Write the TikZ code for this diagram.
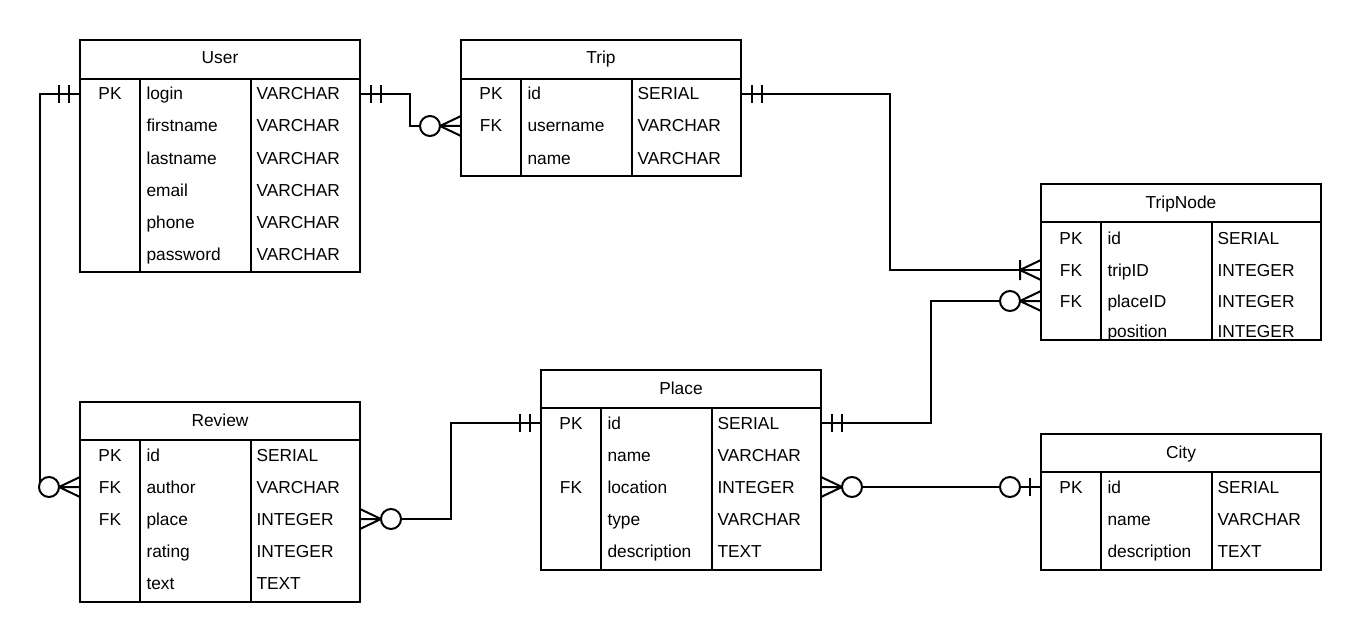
\documentclass[tikz,border=0pt]{standalone}
\usepackage{fontspec}
\setmainfont{Liberation Sans}
\usetikzlibrary{calc}

% one entity table: name, left x, top y, bottom y, header line y, title
\newcommand\ertable[6]{%
  \node[tbl, minimum height={(#4-#3)*0.75pt}] (#1) at (#2,#3) {};
  \draw (#2,#5) -- ++(280,0);
  \draw (#2+60,#5) -- (#2+60,#4);
  \draw (#2+170.5,#5) -- (#2+170.5,#4);
  \node[cell, anchor=base] (#1-title) at (#2+140,#3+24) {#6};}

% one attribute row: table, row id, row centre y, key, field, type
\newcommand\errow[6]{%
  \coordinate (#1-#2) at (#1.west |- 0,#3);
  \node[cell, anchor=base] (#1-#2-k) at ($(#1-#2)+(30,6)$) {#4};
  \node[cell, anchor=base west] (#1-#2-f) at ($(#1-#2)+(65.5,6)$) {#5};
  \node[cell, anchor=base west] (#1-#2-t) at ($(#1-#2)+(175.5,6)$) {#6};}

\tikzset{
  tbl/.style={draw, anchor=north west, inner sep=0pt, outer sep=0pt, minimum width=210pt},
  cell/.style={inner sep=0pt, font=\fontsize{13}{15}\selectfont},
  % crow's foot end markers, drawn with the table edge at the origin
  mand/.pic={\draw (11,-9) -- (11,9) (21,-9) -- (21,9);},
  zmany/.pic={\draw (0,-10) -- (21,0) -- (0,10) (0,0) -- (21,0);
              \draw[fill=white] (31,0) circle[radius=10];},
  omany/.pic={\draw (0,-10) -- (21,0) -- (0,10) (21,-10) -- (21,10);},
  zone/.pic={\draw (11,-9) -- (11,9);
             \draw[fill=white] (31,0) circle[radius=10];},
}

\begin{document}
\begin{tikzpicture}[x=0.75pt, y=-0.75pt, line width=1.5pt]
\useasboundingbox (0,0) rectangle (1361,642);

% entities
\ertable{user}{80}{40}{272}{79}{User}
\errow{user}{1}{94}{PK}{login}{VARCHAR}
\errow{user}{2}{126}{}{firstname}{VARCHAR}
\errow{user}{3}{158}{}{lastname}{VARCHAR}
\errow{user}{4}{190}{}{email}{VARCHAR}
\errow{user}{5}{222}{}{phone}{VARCHAR}
\errow{user}{6}{254}{}{password}{VARCHAR}

\ertable{trip}{461}{40}{176}{79}{Trip}
\errow{trip}{1}{94}{PK}{id}{SERIAL}
\errow{trip}{2}{126}{FK}{username}{VARCHAR}
\errow{trip}{3}{158}{}{name}{VARCHAR}

\ertable{tripnode}{1041}{184}{340}{222}{TripNode}
\errow{tripnode}{1}{238}{PK}{id}{SERIAL}
\errow{tripnode}{2}{270}{FK}{tripID}{INTEGER}
\errow{tripnode}{3}{301}{FK}{placeID}{INTEGER}
\errow{tripnode}{4}{331}{}{position}{INTEGER}

\ertable{review}{80}{402}{602}{440}{Review}
\errow{review}{1}{455}{PK}{id}{SERIAL}
\errow{review}{2}{487}{FK}{author}{VARCHAR}
\errow{review}{3}{519}{FK}{place}{INTEGER}
\errow{review}{4}{551}{}{rating}{INTEGER}
\errow{review}{5}{583}{}{text}{TEXT}

\ertable{place}{541}{370}{570}{408}{Place}
\errow{place}{1}{423}{PK}{id}{SERIAL}
\errow{place}{2}{455}{}{name}{VARCHAR}
\errow{place}{3}{487}{FK}{location}{INTEGER}
\errow{place}{4}{519}{}{type}{VARCHAR}
\errow{place}{5}{551}{}{description}{TEXT}

\ertable{city}{1041}{434}{570}{472}{City}
\errow{city}{1}{487}{PK}{id}{SERIAL}
\errow{city}{2}{519}{}{name}{VARCHAR}
\errow{city}{3}{551}{}{description}{TEXT}

% relationships
\draw (user.west |- user-1) -- ++(-40,0) |- (review.west |- review-2);
\draw (user.east |- user-1) -- ++(50,0) |- (trip.west |- trip-2);
\draw (trip.east |- trip-1) -- ++(149,0) |- (tripnode.west |- tripnode-2);
\draw (place.east |- place-1) -- ++(110,0) |- (tripnode.west |- tripnode-3);
\draw (review.east |- review-3) -- ++(91,0) |- (place.west |- place-1);
\draw (place.east |- place-3) -- (city.west |- city-1);

% relationship end markers
\pic[xscale=-1] at (user.west |- user-1) {mand};
\pic[xscale=-1] at (review.west |- review-2) {zmany};
\pic at (user.east |- user-1) {mand};
\pic[xscale=-1] at (trip.west |- trip-2) {zmany};
\pic at (trip.east |- trip-1) {mand};
\pic[xscale=-1] at (tripnode.west |- tripnode-2) {omany};
\pic at (place.east |- place-1) {mand};
\pic[xscale=-1] at (tripnode.west |- tripnode-3) {zmany};
\pic at (review.east |- review-3) {zmany};
\pic[xscale=-1] at (place.west |- place-1) {mand};
\pic at (place.east |- place-3) {zmany};
\pic[xscale=-1] at (city.west |- city-1) {zone};
\end{tikzpicture}
\end{document}
